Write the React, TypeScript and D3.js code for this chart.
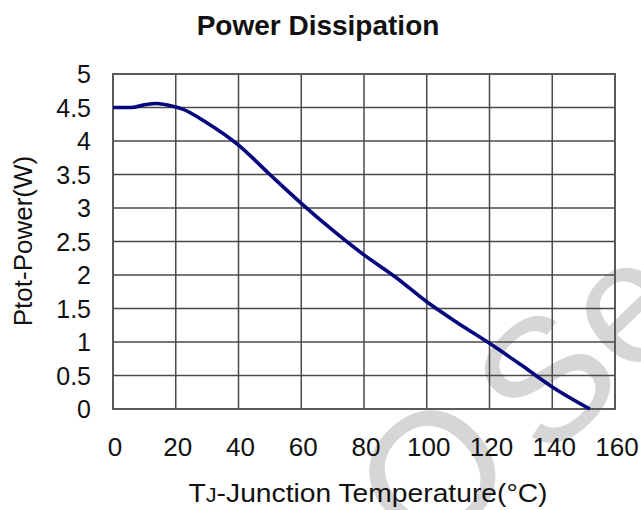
import * as d3 from "d3";

// readings
const temps = [0, 6, 10, 14, 18, 22, 30, 40, 50, 60, 70, 80, 90, 100, 110, 120, 130, 140, 152];
const power = [4.5, 4.5, 4.54, 4.56, 4.53, 4.48, 4.27, 3.94, 3.5, 3.07, 2.67, 2.3, 1.97, 1.6, 1.28, 0.98, 0.66, 0.33, 0];

const xTicks = [0, 20, 40, 60, 80, 100, 120, 140, 160];
const yTicks = [0, 0.5, 1, 1.5, 2, 2.5, 3, 3.5, 4, 4.5, 5];

const W = 641;
const H = 510;
const margin = { top: 74, right: 26, bottom: 101, left: 113 };
const font = "Arial, 'Liberation Sans', sans-serif";

export default function App() {
  const x = d3.scaleLinear().domain([0, 160]).range([margin.left, W - margin.right]);
  const y = d3.scaleLinear().domain([0, 5]).range([H - margin.bottom, margin.top]);

  const points = temps.map((t, i) => [t, power[i]] as [number, number]);
  const line = d3
    .line<[number, number]>()
    .x((d) => x(d[0]))
    .y((d) => y(d[1]))
    .curve(d3.curveMonotoneX);

  return (
    <svg
      width={W}
      height={H}
      style={{ position: "absolute", left: 0, top: 0, background: "#fff" }}
      fontFamily={font}
    >
      {/* watermark, mostly outside the frame */}
      <g transform="translate(400,604) rotate(-44)" fill="#d6d6d6" fontSize={175}>
        <text x={46} y={-11}>O</text>
        <text x={203} y={0}>Se</text>
      </g>

      {/* grid */}
      <g stroke="#4a4a4a" strokeWidth={1.5}>
        {xTicks.slice(1, -1).map((t) => (
          <line key={"gx" + t} x1={x(t)} x2={x(t)} y1={y(0)} y2={y(5)} />
        ))}
        {yTicks.slice(1, -1).map((t) => (
          <line key={"gy" + t} x1={x(0)} x2={x(160)} y1={y(t)} y2={y(t)} />
        ))}
      </g>
      <rect
        x={x(0)}
        y={y(5)}
        width={x(160) - x(0)}
        height={y(0) - y(5)}
        fill="none"
        stroke="#5a5a5a"
        strokeWidth={2}
      />

      {/* curve */}
      <path d={line(points) ?? ""} fill="none" stroke="#06067e" strokeWidth={3.6} />

      {/* y tick labels */}
      <g fontSize={25} fill="#111" textAnchor="end">
        {yTicks.map((t) => (
          <text key={"ty" + t} x={91} y={y(t) + 9}>
            {t}
          </text>
        ))}
      </g>

      {/* x tick labels */}
      <g fontSize={26} fill="#111" textAnchor="middle">
        {xTicks.map((t) => (
          <text key={"tx" + t} x={x(t) + 2} y={456}>
            {t}
          </text>
        ))}
      </g>

      <text x={318} y={35} textAnchor="middle" fontSize={28} fontWeight="bold" fill="#111">
        Power Dissipation
      </text>

      <text
        x={368}
        y={502}
        textAnchor="middle"
        fontSize={26}
        fill="#111"
        textLength={359}
        lengthAdjust="spacingAndGlyphs"
      >
        T<tspan fontSize={20}>J</tspan>-Junction Temperature(°C)
      </text>

      <text
        transform="translate(32,241) rotate(-90)"
        textAnchor="middle"
        fontSize={26}
        fill="#111"
      >
        Ptot-Power(W)
      </text>
    </svg>
  );
}
